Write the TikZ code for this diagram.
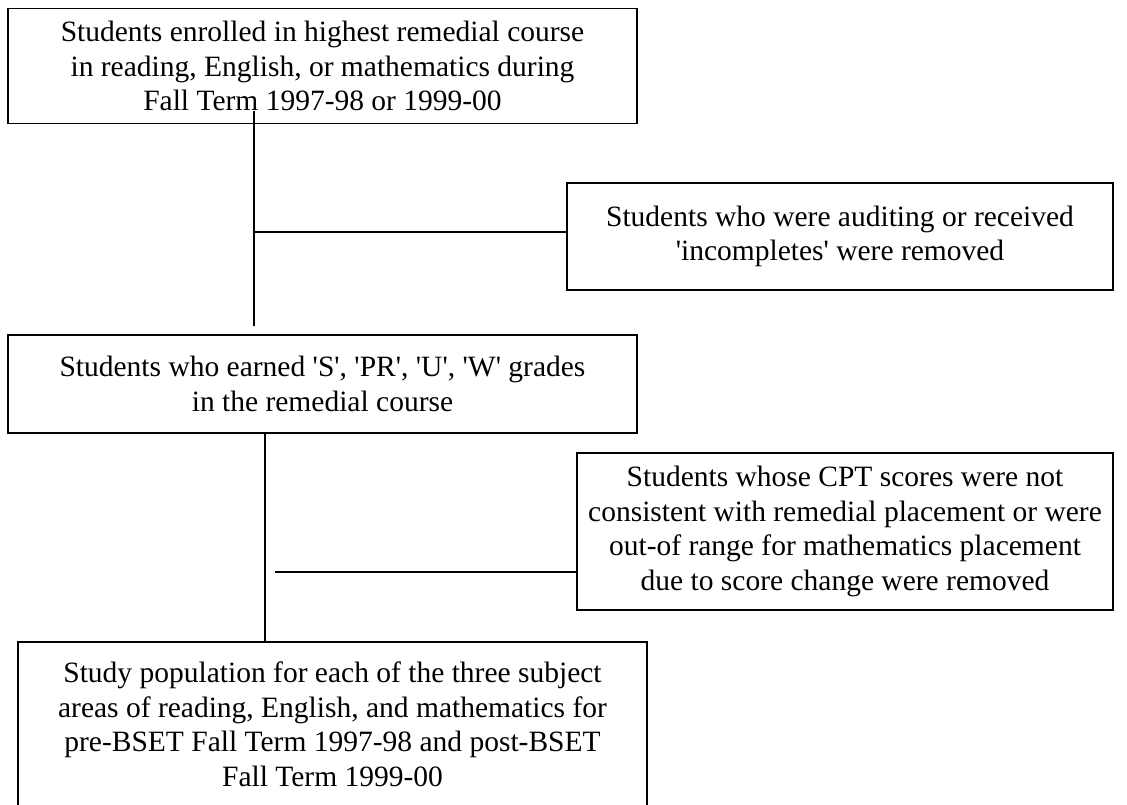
\documentclass[tikz,border=0pt]{standalone}
\usepackage{fontspec}
\setmainfont{Liberation Serif}
\newcommand{\sq}{\textquotesingle}
\begin{document}
\begin{tikzpicture}[x=1pt,y=-1pt,
  box/.style={draw, line width=1.6pt, align=center, inner sep=0pt,
    font=\fontsize{29.5pt}{34.5pt}\selectfont},
  link/.style={line width=1.6pt}]
\useasboundingbox (0,0) rectangle (1127,805);
\node[box, minimum width=629pt, minimum height=115pt] (b1) at (322.5,66)
  {Students enrolled in highest remedial course\\in reading, English, or mathematics during\\Fall Term 1997-98 or 1999-00};
\node[box, minimum width=546pt, minimum height=107pt] (ba) at (840,236.5)
  {Students who were auditing or received\\\sq incompletes\sq{} were removed};
\node[box, minimum width=629pt, minimum height=98pt] (b2) at (322.5,384)
  {Students who earned \sq S\sq, \sq PR\sq, \sq U\sq, \sq W\sq{} grades\\in the remedial course};
\node[box, minimum width=536pt, minimum height=157pt] (bc) at (845,531.5)
  {Students whose CPT scores were not\\consistent with remedial placement or were\\out-of range for mathematics placement\\due to score change were removed};
\node[box, minimum width=629pt, minimum height=165pt] (b4) at (332.5,724.5)
  {Study population for each of the three subject\\areas of reading, English, and mathematics for\\pre-BSET Fall Term 1997-98 and post-BSET\\Fall Term 1999-00};
\coordinate (v1top) at (254,111);
\coordinate (v1bot) at (254,326);
\coordinate (h1) at (254,232);
\coordinate (v2) at (265,0);
\coordinate (h2) at (275,572);
\draw[link] (v1top) -- (v1bot);
\draw[link] (h1) -- (h1 -| ba.west);
\draw[link] (b2.south -| v2) -- (b4.north -| v2);
\draw[link] (h2) -- (h2 -| bc.west);
\end{tikzpicture}
\end{document}
